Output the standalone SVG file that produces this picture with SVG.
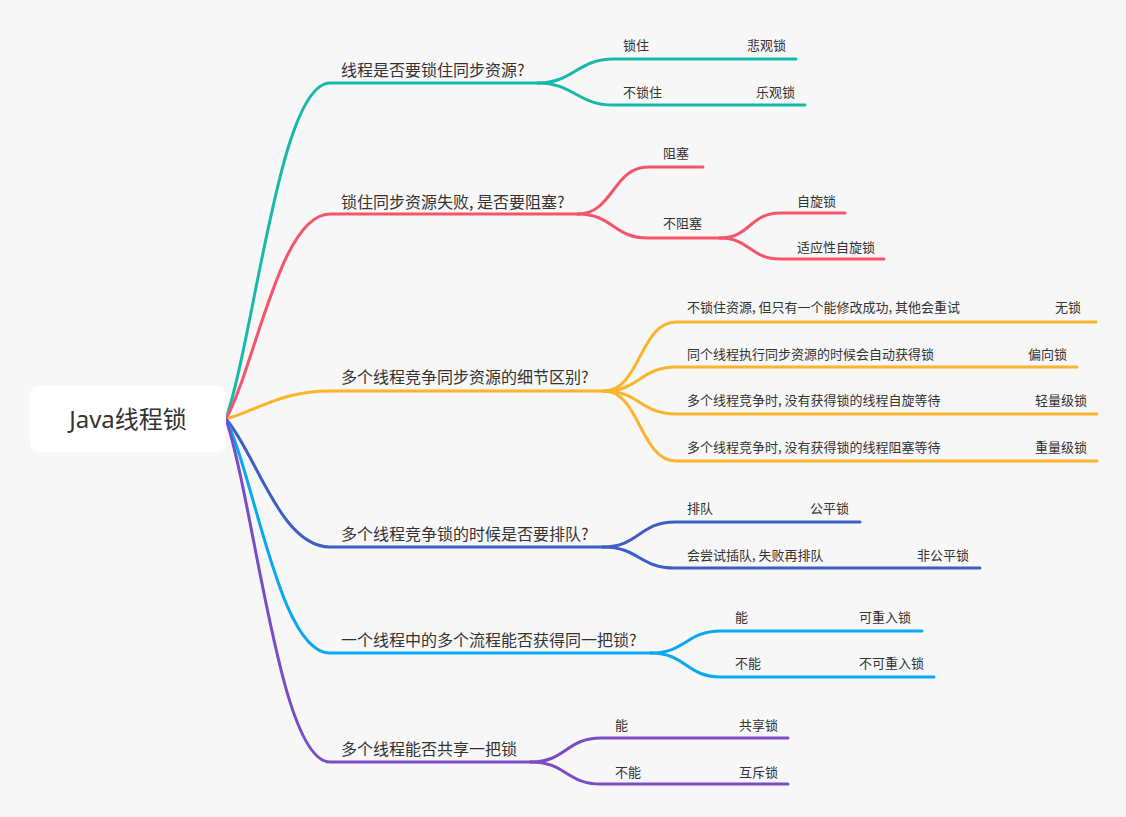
<svg xmlns="http://www.w3.org/2000/svg" width="1126" height="817" viewBox="0 0 1126 817">
<style>
.bg{fill:#f7f7f7}
.root{fill:#ffffff}
.rt{font-family:"Noto Sans","Noto Sans CJK SC",sans-serif;font-size:24px;fill:#333333}
.mt{font-family:"Noto Sans CJK SC",sans-serif;font-size:16px;fill:#333333}
.lt{font-family:"Noto Sans CJK SC",sans-serif;font-size:13px;fill:#333333}
.e{text-anchor:end}
path{fill:none;stroke-width:3;stroke-linecap:round}
.c1{stroke:#17b9aa}.c2{stroke:#f5556a}.c3{stroke:#fbb42c}.c4{stroke:#3d5ec4}.c5{stroke:#08a9ee}.c6{stroke:#7a4cc6}
</style>
<rect class="bg" x="0" y="0" width="1126" height="817"/>
<g id="connectors">
<path class="c1" d="M226,419 C256,328 280,83 330,83 L538,83"/>
<path class="c1" d="M538,83 C573,83 578,59 613,59 L796,59"/>
<path class="c1" d="M538,83 C573,83 578,105 613,105 L805,105"/>
<path class="c2" d="M226,419 C256,364 280,214 330,214 L578,214"/>
<path class="c2" d="M578,214 C613,214 613,167 648,167 L703,167"/>
<path class="c2" d="M578,214 C613,214 613,238 648,238 L720,238"/>
<path class="c2" d="M720,238 C750,238 750,213 780,213 L845,213"/>
<path class="c2" d="M720,238 C750,238 750,259 780,259 L884,259"/>
<path class="c3" d="M226,419 C256,411 280,391 330,391 L604,391"/>
<path class="c3" d="M604,391 C640,391 640,322 676,322 L1096,322"/>
<path class="c3" d="M604,391 C640,391 640,367 676,367 L1077,367"/>
<path class="c3" d="M604,391 C640,391 640,414 676,414 L1097,414"/>
<path class="c3" d="M604,391 C640,391 640,461 676,461 L1097,461"/>
<path class="c4" d="M226,419 C256,453 280,547 330,547 L603,547"/>
<path class="c4" d="M603,547 C639,547 639,522 675,522 L860,522"/>
<path class="c4" d="M603,547 C639,547 639,568 675,568 L980,568"/>
<path class="c5" d="M226,419 C256,483 280,653 330,653 L651,653"/>
<path class="c5" d="M651,653 C686,653 686,631 721,631 L922,631"/>
<path class="c5" d="M651,653 C686,653 686,677 721,677 L934,677"/>
<path class="c6" d="M226,419 C256,512 280,762 330,762 L531,762"/>
<path class="c6" d="M531,762 C566,762 566,738 601,738 L788,738"/>
<path class="c6" d="M531,762 C566,762 566,784 601,784 L788,784"/>
</g>
<g id="root">
<rect class="root" x="30" y="386" width="196" height="66" rx="8"/>
<text class="rt" x="128" y="428" text-anchor="middle">Java线程锁</text>
</g>
<g id="b1">
<text class="mt" x="341" y="76">线程是否要锁住同步资源?</text>
<text class="lt" x="623" y="50">锁住</text>
<text class="lt e" x="786" y="50">悲观锁</text>
<text class="lt" x="623" y="97">不锁住</text>
<text class="lt e" x="795" y="97">乐观锁</text>
</g>
<g id="b2">
<text class="mt" x="341" y="207.5">锁住同步资源失败, 是否要阻塞?</text>
<text class="lt" x="663" y="157.5">阻塞</text>
<text class="lt" x="663" y="227.5">不阻塞</text>
<text class="lt" x="797" y="205.5">自旋锁</text>
<text class="lt" x="797" y="251.5">适应性自旋锁</text>
</g>
<g id="b3">
<text class="mt" x="341" y="382.5">多个线程竞争同步资源的细节区别?</text>
<text class="lt" x="687" y="311.5">不锁住资源, 但只有一个能修改成功, 其他会重试</text>
<text class="lt e" x="1081" y="311.5">无锁</text>
<text class="lt" x="687" y="358.5">同个线程执行同步资源的时候会自动获得锁</text>
<text class="lt e" x="1067" y="358.5">偏向锁</text>
<text class="lt" x="687" y="404.5">多个线程竞争时, 没有获得锁的线程自旋等待</text>
<text class="lt e" x="1087" y="404.5">轻量级锁</text>
<text class="lt" x="687" y="451.5">多个线程竞争时, 没有获得锁的线程阻塞等待</text>
<text class="lt e" x="1087" y="451.5">重量级锁</text>
</g>
<g id="b4">
<text class="mt" x="341" y="539.5">多个线程竞争锁的时候是否要排队?</text>
<text class="lt" x="687" y="512.5">排队</text>
<text class="lt e" x="849" y="512.5">公平锁</text>
<text class="lt" x="687" y="559.5">会尝试插队, 失败再排队</text>
<text class="lt e" x="969" y="559.5">非公平锁</text>
</g>
<g id="b5">
<text class="mt" x="341" y="645.5">一个线程中的多个流程能否获得同一把锁?</text>
<text class="lt" x="735" y="621.5">能</text>
<text class="lt e" x="911" y="621.5">可重入锁</text>
<text class="lt" x="735" y="667.5">不能</text>
<text class="lt e" x="924" y="667.5">不可重入锁</text>
</g>
<g id="b6">
<text class="mt" x="341" y="754.5">多个线程能否共享一把锁</text>
<text class="lt" x="615" y="729.5">能</text>
<text class="lt e" x="778" y="729.5">共享锁</text>
<text class="lt" x="615" y="776.5">不能</text>
<text class="lt e" x="778" y="776.5">互斥锁</text>
</g>
</svg>
